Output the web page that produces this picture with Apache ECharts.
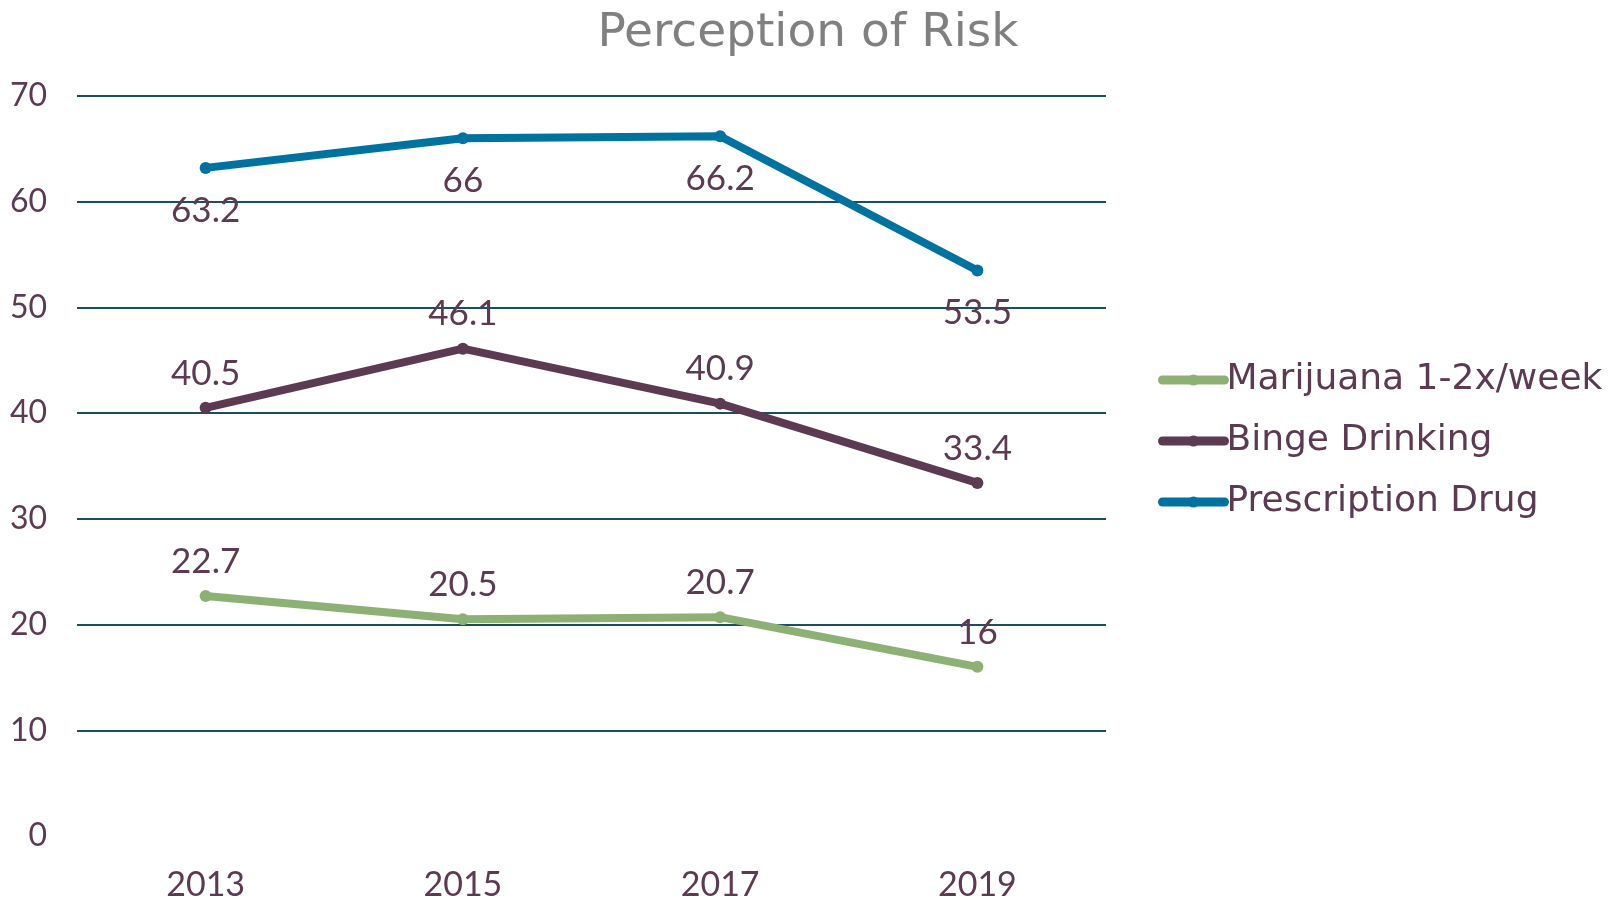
<!DOCTYPE html>
<html>
<head>
<meta charset="utf-8">
<script src="https://cdn.jsdelivr.net/npm/echarts@6/dist/echarts.min.js"></script>
<style>
  html, body { margin: 0; padding: 0; background: #fff; }
  #chart_container { width: 1618px; height: 902px; }
</style>
</head>
<body>
<div id="chart_container"></div>
<script>
var years = ['2013', '2015', '2017', '2019'];
var marijuana = [22.7, 20.5, 20.7, 16];
var binge = [40.5, 46.1, 40.9, 33.4];
var prescription = [63.2, 66, 66.2, 53.5];
var series_names = ['Marijuana 1-2x/week', 'Binge Drinking', 'Prescription Drug'];

var text_color = '#5b3a52';
// digits look closer with Lato, words with DejaVu
var num_font = 'Lato';
var word_font = 'DejaVu Sans';

function makeSeries(name, data, color, labelPos, dist) {
  return {
    name: name,
    type: 'line',
    data: data,
    symbol: 'circle',
    symbolSize: 12,
    lineStyle: { width: 8, color: color, cap: 'round' },
    itemStyle: { color: color },
    label: {
      show: true,
      position: labelPos,
      distance: dist,
      fontFamily: num_font,
      fontSize: 35,
      color: text_color
    },
    emphasis: { disabled: true }
  };
}

var chart = echarts.init(document.getElementById('chart_container'));
chart.setOption({
  animation: false,
  title: {
    text: 'Perception of Risk',
    left: 803,
    textAlign: 'center',
    top: 5,
    textStyle: { fontFamily: word_font, fontWeight: 'normal', fontSize: 47, color: '#808080' }
  },
  legend: {
    orient: 'vertical',
    left: 1153,
    top: 357,
    itemWidth: 62,
    itemHeight: 14,
    itemGap: 25,
    lineStyle: { width: 9, cap: 'round' },
    textStyle: { fontFamily: word_font, fontSize: 36, color: text_color, padding: [0, 0, 0, -3] },
    data: series_names
  },
  grid: { left: 77, right: 512, top: 96, bottom: 66 },
  xAxis: {
    type: 'category',
    data: years,
    boundaryGap: true,
    axisLine: { show: false },
    axisTick: { show: false },
    axisLabel: { fontFamily: num_font, fontSize: 34, color: text_color, margin: 32 }
  },
  yAxis: {
    type: 'value',
    min: 0,
    max: 70,
    interval: 10,
    axisLine: { show: false },
    axisTick: { show: false },
    axisLabel: { fontFamily: num_font, fontSize: 32, color: text_color, margin: 30 },
    splitLine: {
      show: true,
      lineStyle: { color: '#1d4e5f', width: 2 },
      showMinLine: false
    }
  },
  series: [
    makeSeries(series_names[0], marijuana, '#8db174', 'top', 11),
    makeSeries(series_names[1], binge, '#5b3a52', 'top', 11),
    makeSeries(series_names[2], prescription, '#0072a0', 'bottom', 19)
  ]
});
</script>
</body>
</html>
